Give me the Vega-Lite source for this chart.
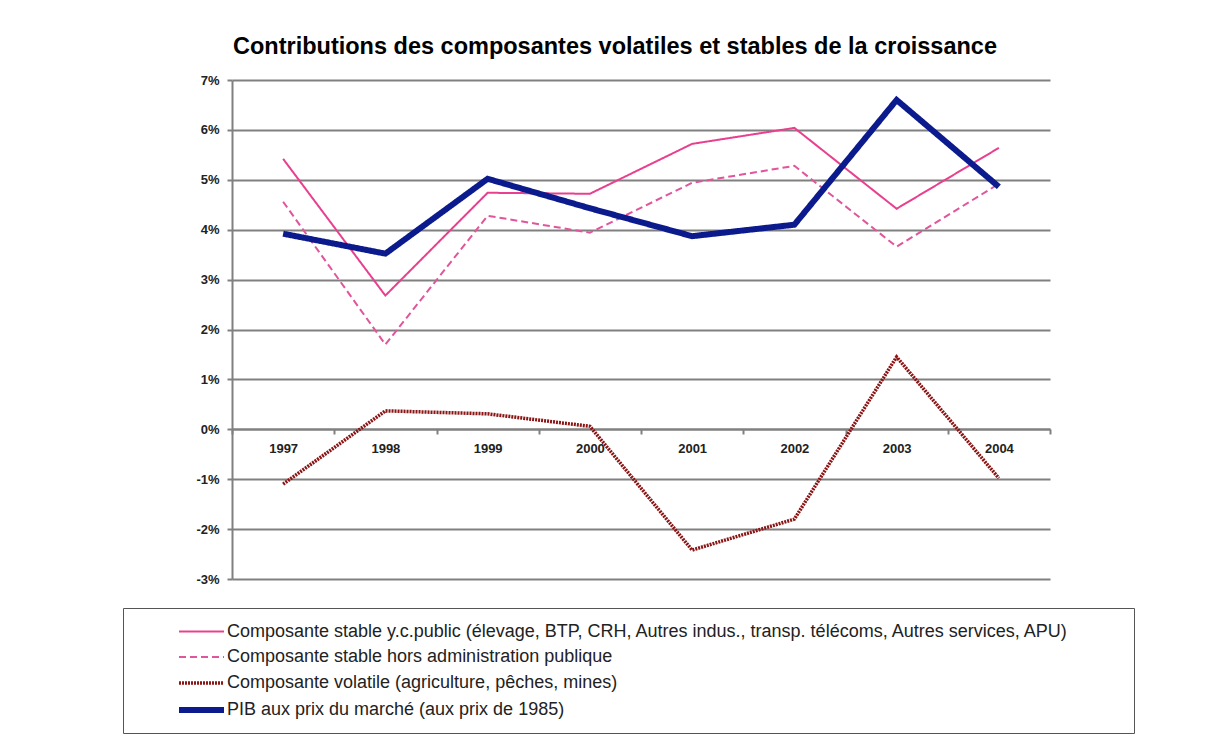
{
  "$schema": "https://vega.github.io/schema/vega-lite/v6.json",
  "autosize": {"type": "none"},
  "padding": {"left": 232, "top": 80, "right": 158, "bottom": 163},
  "width": 818,
  "height": 499,
  "background": "white",
  "title": {
    "text": "Contributions des composantes volatiles et stables de la croissance",
    "anchor": "start",
    "frame": "group",
    "font": "Liberation Sans",
    "fontSize": 23.5,
    "fontWeight": "bold",
    "color": "#000000",
    "offset": 16,
    "dx": 1
  },
  "data": {
    "values": [
      {"year": "1997", "series": "Composante stable y.c.public (élevage, BTP, CRH, Autres indus., transp. télécoms, Autres services, APU)", "value": 5.42},
      {"year": "1998", "series": "Composante stable y.c.public (élevage, BTP, CRH, Autres indus., transp. télécoms, Autres services, APU)", "value": 2.68},
      {"year": "1999", "series": "Composante stable y.c.public (élevage, BTP, CRH, Autres indus., transp. télécoms, Autres services, APU)", "value": 4.74},
      {"year": "2000", "series": "Composante stable y.c.public (élevage, BTP, CRH, Autres indus., transp. télécoms, Autres services, APU)", "value": 4.72},
      {"year": "2001", "series": "Composante stable y.c.public (élevage, BTP, CRH, Autres indus., transp. télécoms, Autres services, APU)", "value": 5.72},
      {"year": "2002", "series": "Composante stable y.c.public (élevage, BTP, CRH, Autres indus., transp. télécoms, Autres services, APU)", "value": 6.04},
      {"year": "2003", "series": "Composante stable y.c.public (élevage, BTP, CRH, Autres indus., transp. télécoms, Autres services, APU)", "value": 4.42},
      {"year": "2004", "series": "Composante stable y.c.public (élevage, BTP, CRH, Autres indus., transp. télécoms, Autres services, APU)", "value": 5.64},
      {"year": "1997", "series": "Composante stable hors administration publique", "value": 4.56},
      {"year": "1998", "series": "Composante stable hors administration publique", "value": 1.70},
      {"year": "1999", "series": "Composante stable hors administration publique", "value": 4.28},
      {"year": "2000", "series": "Composante stable hors administration publique", "value": 3.94},
      {"year": "2001", "series": "Composante stable hors administration publique", "value": 4.94},
      {"year": "2002", "series": "Composante stable hors administration publique", "value": 5.28},
      {"year": "2003", "series": "Composante stable hors administration publique", "value": 3.66},
      {"year": "2004", "series": "Composante stable hors administration publique", "value": 4.92},
      {"year": "1997", "series": "Composante volatile (agriculture, pêches, mines)", "value": -1.10},
      {"year": "1998", "series": "Composante volatile (agriculture, pêches, mines)", "value": 0.37},
      {"year": "1999", "series": "Composante volatile (agriculture, pêches, mines)", "value": 0.31},
      {"year": "2000", "series": "Composante volatile (agriculture, pêches, mines)", "value": 0.06},
      {"year": "2001", "series": "Composante volatile (agriculture, pêches, mines)", "value": -2.42},
      {"year": "2002", "series": "Composante volatile (agriculture, pêches, mines)", "value": -1.80},
      {"year": "2003", "series": "Composante volatile (agriculture, pêches, mines)", "value": 1.45},
      {"year": "2004", "series": "Composante volatile (agriculture, pêches, mines)", "value": -0.98},
      {"year": "1997", "series": "PIB aux prix du marché (aux prix de 1985)", "value": 3.92},
      {"year": "1998", "series": "PIB aux prix du marché (aux prix de 1985)", "value": 3.52},
      {"year": "1999", "series": "PIB aux prix du marché (aux prix de 1985)", "value": 5.02},
      {"year": "2000", "series": "PIB aux prix du marché (aux prix de 1985)", "value": 4.43},
      {"year": "2001", "series": "PIB aux prix du marché (aux prix de 1985)", "value": 3.87},
      {"year": "2002", "series": "PIB aux prix du marché (aux prix de 1985)", "value": 4.10},
      {"year": "2003", "series": "PIB aux prix du marché (aux prix de 1985)", "value": 6.60},
      {"year": "2004", "series": "PIB aux prix du marché (aux prix de 1985)", "value": 4.86}
    ]
  },
  "mark": {"type": "line", "strokeCap": "butt", "strokeJoin": "miter"},
  "encoding": {
    "x": {
      "field": "year",
      "type": "ordinal",
      "bandPosition": 0.5,
      "scale": {"type": "band", "paddingInner": 0, "paddingOuter": 0},
      "axis": {
        "title": null,
        "orient": "bottom",
        "offset": -150,
        "labelAngle": 0,
        "tickBand": "extent",
        "grid": false,
        "domainColor": "#808080",
        "domainWidth": 2,
        "tickColor": "#808080",
        "tickWidth": 2,
        "tickSize": 5,
        "labelFont": "Liberation Sans",
        "labelFontSize": 13,
        "labelFontWeight": "bold",
        "labelColor": "#222222",
        "labelPadding": 8
      }
    },
    "y": {
      "field": "value",
      "type": "quantitative",
      "scale": {"domain": [-3, 7], "nice": false, "zero": false},
      "axis": {
        "title": null,
        "values": [-3, -2, -1, 0, 1, 2, 3, 4, 5, 6, 7],
        "labelExpr": "datum.value + '%'",
        "grid": true,
        "gridColor": "#808080",
        "gridWidth": 2,
        "domainColor": "#808080",
        "domainWidth": 2,
        "tickColor": "#808080",
        "tickWidth": 2,
        "tickSize": 5,
        "labelFont": "Liberation Sans",
        "labelFontSize": 13,
        "labelFontWeight": "bold",
        "labelColor": "#222222",
        "labelPadding": 8
      }
    },
    "color": {
      "field": "series",
      "type": "nominal",
      "scale": {
        "domain": [
          "Composante stable y.c.public (élevage, BTP, CRH, Autres indus., transp. télécoms, Autres services, APU)",
          "Composante stable hors administration publique",
          "Composante volatile (agriculture, pêches, mines)",
          "PIB aux prix du marché (aux prix de 1985)"
        ],
        "range": ["#E8408E", "#E0559B", "#8B1414", "#0B1A8C"]
      },
      "legend": {
        "title": "\u00a0",
        "titleOrient": "right",
        "titlePadding": 53,
        "orient": "none",
        "legendX": -109,
        "legendY": 528,
        "direction": "vertical",
        "strokeColor": "#555555",
        "padding": 11,
        "symbolType": "M-2,0L2,0",
        "symbolSize": 506,
        "symbolOffset": 53,
        "labelFont": "Liberation Sans",
        "labelFontSize": 18,
        "labelColor": "#222222",
        "labelOffset": 11,
        "labelLimit": 1000,
        "rowPadding": 3.5
      }
    },
    "strokeDash": {
      "field": "series",
      "type": "nominal",
      "scale": {
        "domain": [
          "Composante stable y.c.public (élevage, BTP, CRH, Autres indus., transp. télécoms, Autres services, APU)",
          "Composante stable hors administration publique",
          "Composante volatile (agriculture, pêches, mines)",
          "PIB aux prix du marché (aux prix de 1985)"
        ],
        "range": [[1, 0], [7, 4], [2, 1], [1, 0]]
      },
      "legend": null
    },
    "strokeWidth": {
      "field": "series",
      "type": "nominal",
      "scale": {
        "type": "ordinal",
        "domain": [
          "Composante stable y.c.public (élevage, BTP, CRH, Autres indus., transp. télécoms, Autres services, APU)",
          "Composante stable hors administration publique",
          "Composante volatile (agriculture, pêches, mines)",
          "PIB aux prix du marché (aux prix de 1985)"
        ],
        "range": [2, 2, 3.5, 6]
      },
      "legend": null
    }
  },
  "config": {
    "view": {"stroke": null},
    "font": "Liberation Sans"
  }
}
